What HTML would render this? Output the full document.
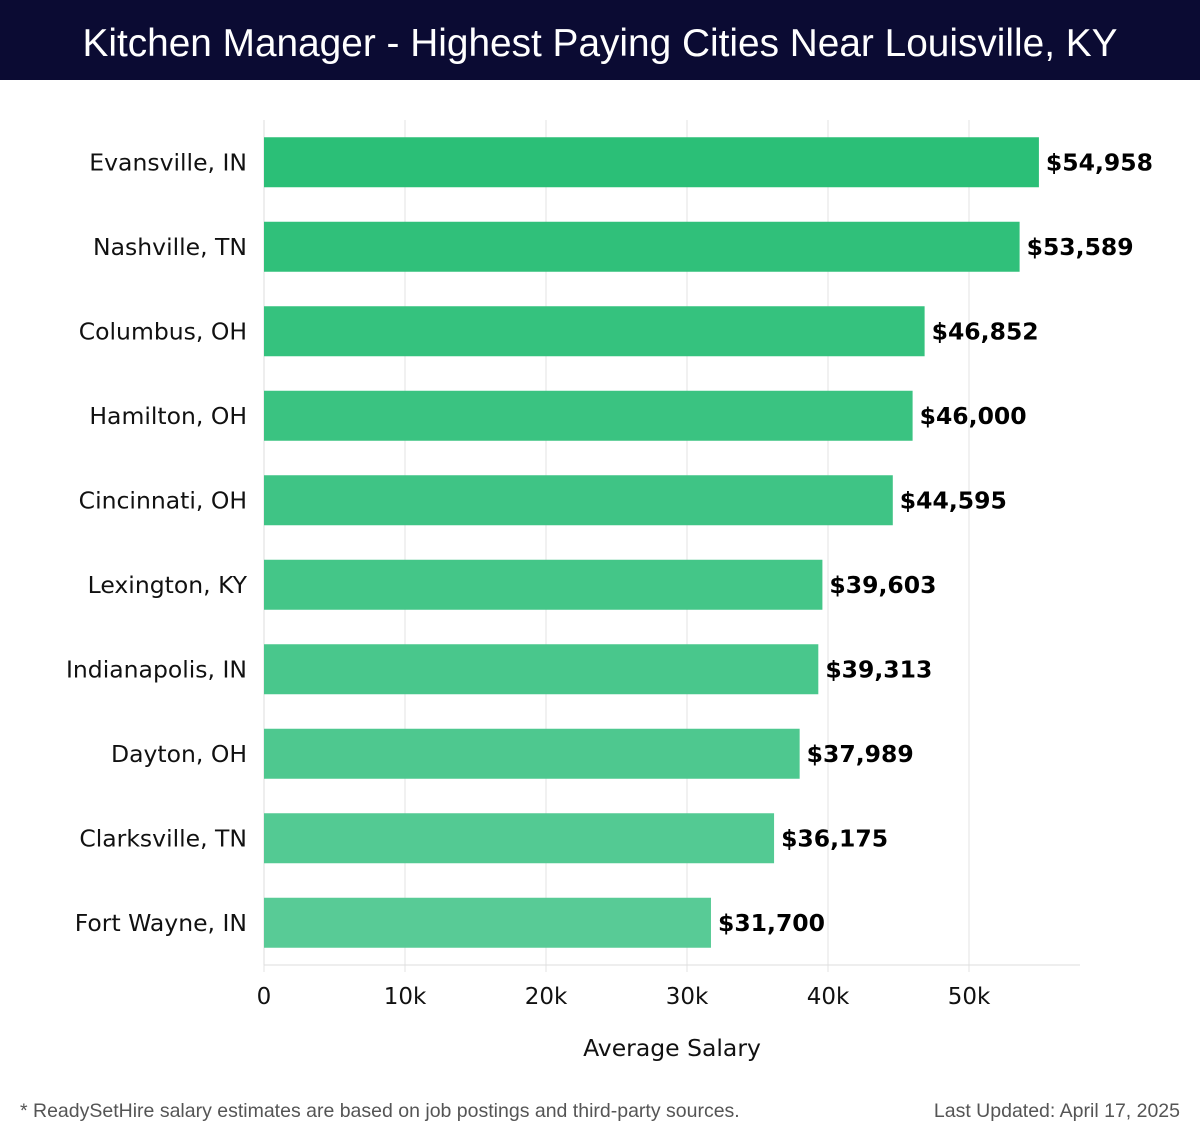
<!DOCTYPE html>
<html><head><meta charset="utf-8"><style>
body{margin:0;width:1200px;height:1140px;background:#fff;overflow:hidden;font-family:"DejaVu Sans","Liberation Sans",sans-serif}
#title{position:absolute;left:0;top:0;width:1200px;height:80px;background:#0b0b33;color:#fff;font:38.8px "Liberation Sans",sans-serif;text-align:center;line-height:88px}
.foot{position:absolute;top:1100px;font:19.5px "Liberation Sans",sans-serif;color:#555}
</style></head><body>
<div id="title">Kitchen Manager - Highest Paying Cities Near Louisville, KY</div>
<svg id="chart" width="1200" height="1140" style="position:absolute;left:0;top:0"></svg>
<div class="foot" style="left:20px">* ReadySetHire salary estimates are based on job postings and third-party sources.</div>
<div class="foot" style="right:20px">Last Updated: April 17, 2025</div>
<script>
const cities=["Evansville, IN","Nashville, TN","Columbus, OH","Hamilton, OH","Cincinnati, OH","Lexington, KY","Indianapolis, IN","Dayton, OH","Clarksville, TN","Fort Wayne, IN"];
const salaries=[54958,53589,46852,46000,44595,39603,39313,37989,36175,31700];
const ticks=[0,10000,20000,30000,40000,50000];
const tickLabels=["0","10k","20k","30k","40k","50k"];
const svg=document.getElementById('chart');
const NS='http://www.w3.org/2000/svg';
const x0=264,pxPer=(969-264)/50000,top0=120,band=84.5,axisRight=1080;
const X=v=>x0+v*pxPer;
function mk(t,a){const e=document.createElementNS(NS,t);for(const k in a)e.setAttribute(k,a[k]);svg.appendChild(e);return e;}
ticks.forEach((t,i)=>{
 const g=mk('line',{x1:X(t),x2:X(t),y1:top0,y2:972,stroke:'#e3e3e3','stroke-width':1});
 
 
 const l=mk('text',{x:X(t),y:1004,'text-anchor':'middle','font-size':23,fill:'#111'});l.textContent=tickLabels[i];
 
 
});
const ax=mk('line',{x1:x0,x2:axisRight,y1:965,y2:965,stroke:'#ddd'});


const ay=mk('line',{x1:x0,x2:x0,y1:top0,y2:965,stroke:'#ddd'});


cities.forEach((c,i)=>{
 const cy=top0+band*i+band/2;
 const f=i/(cities.length-1);
 const r=Math.round(43+f*(88-43)),g=Math.round(191+f*(203-191)),b=Math.round(119+f*(150-119));
 const rect=mk('rect',{x:x0,y:cy-25,width:X(salaries[i])-x0,height:50,fill:`rgb(${r},${g},${b})`});
 
 
 const lab=mk('text',{x:247,y:cy+8,'text-anchor':'end','font-size':23.5,fill:'#111'});lab.textContent=c;
 
 
 const v=mk('text',{x:X(salaries[i])+7,y:cy+8,'font-size':23.5,'font-weight':'bold',fill:'#000'});v.textContent='$'+salaries[i].toLocaleString('en-US');
 
 
});
const xt=mk('text',{x:672,y:1056,'text-anchor':'middle','font-size':23.5,fill:'#111'});xt.textContent='Average Salary';


</script>
</body></html>
